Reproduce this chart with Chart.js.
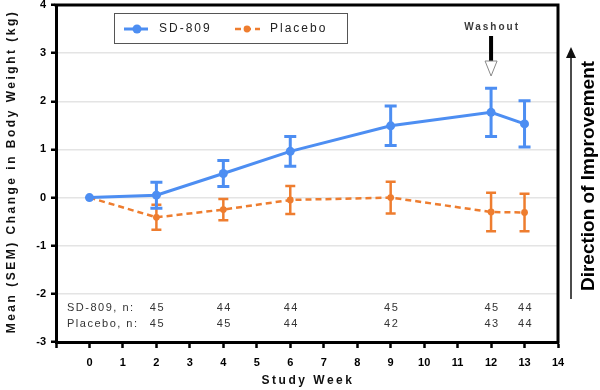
<!DOCTYPE html>
<html>
<head>
<meta charset="utf-8">
<script src="https://cdn.jsdelivr.net/npm/chart.js@4.4.0/dist/chart.umd.min.js"></script>
<style>
  html, body { margin: 0; padding: 0; background: #fff; }
  #wrap { width: 600px; height: 390px; }
</style>
</head>
<body>
<div id="wrap"><canvas id="weightChart" width="600" height="390"></canvas></div>
<script>
// data
const weeks = [0, 2, 4, 6, 9, 12, 13];
const sdMean = [0, 0.05, 0.5, 0.96, 1.49, 1.77, 1.53];
const sdSem = [0, 0.27, 0.27, 0.31, 0.41, 0.5, 0.48];
const pbMean = [0, -0.41, -0.25, -0.05, 0, -0.3, -0.31];
const pbSem = [0, 0.26, 0.22, 0.29, 0.33, 0.4, 0.39];
const sdN = [null, 45, 44, 44, 45, 45, 44];
const pbN = [null, 45, 45, 44, 42, 43, 44];
const seriesNames = ['SD-809', 'Placebo'];

const BLUE = '#4d8ef2';
const ORANGE = '#ee7d2f';
const FONT = "'Liberation Sans', Arial, sans-serif";

function pts(means) {
  return weeks.map((w, i) => ({ x: w, y: means[i] }));
}

// error bars, drawn per dataset so the blue ones sit on top
const errorBars = {
  id: 'errorBars',
  afterDatasetDraw(chart, args) {
    const ctx = chart.ctx;
    const xs = chart.scales.x, ys = chart.scales.y;
    const sem = args.index === 0 ? sdSem : pbSem;
    const mean = args.index === 0 ? sdMean : pbMean;
    const color = args.index === 0 ? BLUE : ORANGE;
    const half = args.index === 0 ? 6 : 5;
    ctx.save();
    ctx.strokeStyle = color;
    ctx.lineWidth = args.index === 0 ? 3 : 2.5;
    weeks.forEach((w, i) => {
      if (!sem[i]) return;
      const px = xs.getPixelForValue(w);
      const top = ys.getPixelForValue(mean[i] + sem[i]);
      const bot = ys.getPixelForValue(mean[i] - sem[i]);
      ctx.beginPath();
      ctx.moveTo(px, top); ctx.lineTo(px, bot);
      ctx.moveTo(px - half, top); ctx.lineTo(px + half, top);
      ctx.moveTo(px - half, bot); ctx.lineTo(px + half, bot);
      ctx.stroke();
    });
    ctx.restore();
  }
};

// frame, legend, n table, titles and side annotations
const extras = {
  id: 'extras',
  afterDraw(chart) {
    const ctx = chart.ctx;
    const a = chart.chartArea;
    const xs = chart.scales.x;
    ctx.save();

    // top and right frame
    ctx.strokeStyle = '#000';
    ctx.lineWidth = 3;
    ctx.beginPath();
    ctx.moveTo(a.left - 1.5, a.top);
    ctx.lineTo(a.right, a.top);
    ctx.lineTo(a.right, a.bottom + 1.5);
    ctx.stroke();

    // legend box
    ctx.fillStyle = '#fff';
    ctx.fillRect(114, 13, 233, 30);
    ctx.strokeStyle = '#555';
    ctx.lineWidth = 1;
    ctx.strokeRect(114.5, 13.5, 233, 30);
    ctx.strokeStyle = BLUE;
    ctx.lineWidth = 3;
    ctx.beginPath(); ctx.moveTo(124, 29); ctx.lineTo(148, 29); ctx.stroke();
    ctx.fillStyle = BLUE;
    ctx.beginPath(); ctx.arc(137, 29, 4.5, 0, Math.PI * 2); ctx.fill();
    ctx.strokeStyle = ORANGE;
    ctx.lineWidth = 2.5;
    ctx.setLineDash([6, 4]);
    ctx.beginPath(); ctx.moveTo(235, 29); ctx.lineTo(260, 29); ctx.stroke();
    ctx.setLineDash([]);
    ctx.fillStyle = ORANGE;
    ctx.beginPath(); ctx.arc(247, 29, 3.4, 0, Math.PI * 2); ctx.fill();
    ctx.fillStyle = '#222';
    ctx.font = '12px ' + FONT;
    ctx.letterSpacing = '2px';
    ctx.textBaseline = 'middle';
    ctx.textAlign = 'left';
    ctx.fillText(seriesNames[0], 159, 29);
    ctx.fillText(seriesNames[1], 270, 29);

    // n table
    ctx.font = '11px ' + FONT;
    ctx.letterSpacing = '1.5px';
    ctx.fillStyle = '#333';
    ctx.fillText(seriesNames[0] + ', n:', 67, 308);
    ctx.fillText(seriesNames[1] + ', n:', 67, 324);
    ctx.textAlign = 'center';
    weeks.forEach((w, i) => {
      const px = xs.getPixelForValue(w) + 1;
      if (sdN[i] != null) ctx.fillText(String(sdN[i]), px, 308);
      if (pbN[i] != null) ctx.fillText(String(pbN[i]), px, 324);
    });

    // washout marker at week 12
    const wx = xs.getPixelForValue(12);
    ctx.font = 'bold 10px ' + FONT;
    ctx.letterSpacing = '2px';
    ctx.fillStyle = '#3a3a3a';
    ctx.fillText('Washout', wx + 1, 27);
    ctx.strokeStyle = '#000';
    ctx.lineWidth = 4;
    ctx.beginPath(); ctx.moveTo(wx, 36); ctx.lineTo(wx, 62); ctx.stroke();
    ctx.fillStyle = '#fff';
    ctx.strokeStyle = '#888';
    ctx.lineWidth = 1;
    ctx.beginPath();
    ctx.moveTo(wx - 6, 61); ctx.lineTo(wx + 6, 61); ctx.lineTo(wx, 76); ctx.closePath();
    ctx.fill(); ctx.stroke();

    // axis titles
    ctx.fillStyle = '#111';
    ctx.font = 'bold 12px ' + FONT;
    ctx.letterSpacing = '2.5px';
    ctx.textAlign = 'center';
    ctx.fillText('Study Week', (a.left + a.right) / 2 + 1, 381);
    ctx.save();
    ctx.translate(12, (a.top + a.bottom) / 2 - 2);
    ctx.rotate(-Math.PI / 2);
    ctx.fillText('Mean (SEM) Change in Body Weight (kg)', 0, 0);
    ctx.restore();

    // direction of improvement
    ctx.strokeStyle = '#111';
    ctx.lineWidth = 1.5;
    ctx.beginPath(); ctx.moveTo(571, 57); ctx.lineTo(571, 299); ctx.stroke();
    ctx.fillStyle = '#111';
    ctx.beginPath();
    ctx.moveTo(571, 47); ctx.lineTo(576, 58); ctx.lineTo(566, 58); ctx.closePath();
    ctx.fill();
    ctx.save();
    ctx.translate(589, 176);
    ctx.rotate(-Math.PI / 2);
    ctx.letterSpacing = '0px';
    ctx.font = 'bold 19px ' + FONT;
    ctx.fillStyle = '#000';
    ctx.fillText('Direction of Improvement', 0, 0);
    ctx.restore();

    ctx.restore();
  }
};

const ctx = document.getElementById('weightChart').getContext('2d');
new Chart(ctx, {
  type: 'line',
  data: {
    datasets: [
      {
        label: seriesNames[0],
        data: pts(sdMean),
        borderColor: BLUE,
        backgroundColor: BLUE,
        borderWidth: 3,
        pointRadius: 4.5,
        pointBorderWidth: 0,
        tension: 0,
        clip: false
      },
      {
        label: seriesNames[1],
        data: pts(pbMean),
        borderColor: ORANGE,
        backgroundColor: ORANGE,
        borderWidth: 2.5,
        borderDash: [6, 4],
        pointRadius: 3.4,
        pointBorderWidth: 0,
        tension: 0,
        clip: false
      }
    ]
  },
  options: {
    responsive: false,
    animation: false,
    layout: { padding: { top: 5, right: 42, left: 0, bottom: 0 } },
    plugins: {
      legend: { display: false },
      tooltip: { enabled: false }
    },
    scales: {
      x: {
        type: 'linear',
        min: -1,
        max: 14,
        afterFit(scale) {
          scale.height = 48;
          scale.paddingLeft = 0;
          scale.paddingRight = 0;
        },
        ticks: {
          stepSize: 1,
          padding: 8,
          color: '#000',
          font: { family: FONT, size: 11, weight: 'bold' },
          callback: v => (v < 0 ? '' : v)
        },
        grid: {
          drawOnChartArea: false,
          tickLength: 6,
          tickWidth: 2.5,
          tickColor: '#000'
        },
        border: { color: '#000', width: 3 }
      },
      y: {
        min: -3,
        max: 4,
        afterFit(scale) {
          scale.width = 56;
          scale.paddingTop = 0;
          scale.paddingBottom = 0;
        },
        ticks: {
          stepSize: 1,
          padding: 5,
          color: '#000',
          font: { family: FONT, size: 11, weight: 'bold' }
        },
        grid: {
          color: '#e4e4e4',
          lineWidth: 1.5,
          tickLength: 5,
          tickWidth: 2.5,
          tickColor: '#000'
        },
        border: { color: '#000', width: 3 }
      }
    }
  },
  plugins: [errorBars, extras]
});
</script>
</body>
</html>
